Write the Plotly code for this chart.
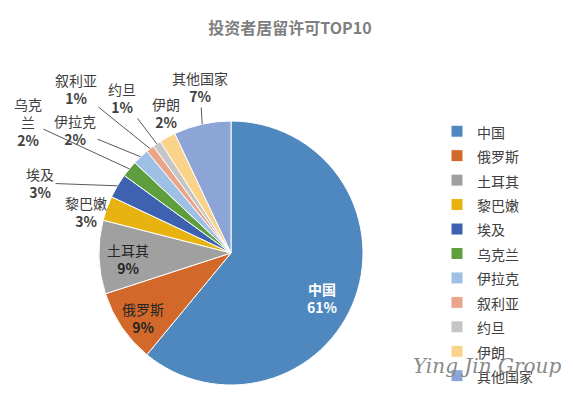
import math
import plotly.graph_objects as go

W, H = 573, 397
OFF = 8  # page body margin offset compensation

# ---- data ----
countries = ["中国", "俄罗斯", "土耳其", "黎巴嫩", "埃及", "乌克兰", "伊拉克", "叙利亚", "约旦", "伊朗", "其他国家"]
shares = [61, 9, 9, 3, 3, 2, 2, 1, 1, 2, 7]
colors = ["#4F88BE", "#D2692A", "#A0A0A0", "#E8B210", "#3F62B0", "#5E9E3F",
          "#9DC0E4", "#E8A58A", "#C5C5C5", "#FAD38A", "#8DA4D6"]
title_text = "投资者居留许可TOP10"

# ---- layout config (pixels, reference coordinates) ----
CX, CY, R = 231, 253, 132
# label centre (px) and whether a leader line is drawn
label_cfg = {
    "中国": (322, 298, False),
    "俄罗斯": (143, 318, False),
    "土耳其": (128, 259, False),
    "黎巴嫩": (86, 212, False),
    "埃及": (40, 183, True),
    "乌克兰": (28, 122, True),
    "伊拉克": (75, 130, True),
    "叙利亚": (76, 89, True),
    "约旦": (122, 98, True),
    "伊朗": (166, 113, False),
    "其他国家": (200, 87, True),
}
label_wrap = {"乌克兰": "乌克<br>兰"}

def px2paper(x, y):
    return (x - OFF) / W, 1 - (y - OFF) / H

fig = go.Figure()
fig.add_trace(go.Pie(
    labels=[f'<span style="font-size:14px">{c}</span>' for c in countries],
    values=shares,
    sort=False,
    direction="clockwise",
    rotation=0,
    marker=dict(colors=colors, line=dict(color="white", width=1)),
    textinfo="none",
    hoverinfo="label+percent",
    domain=dict(x=[(CX - OFF - R) / W, (CX - OFF + R) / W],
                y=[(H - (CY - OFF) - R) / H, (H - (CY - OFF) + R) / H]),
))

annotations = []
total = sum(shares)
cum = 0
for i, (name, v) in enumerate(zip(countries, shares)):
    mid = (cum + v / 2) / total * 2 * math.pi
    cum += v
    s, c = math.sin(mid), math.cos(mid)
    lx, ly, arrow = label_cfg[name]
    pct = round(v / total * 100)
    shown = label_wrap.get(name, name)
    if i == 0:
        txt = f"<b>{shown}</b><br><b>{pct}%</b>"
        col = "white"
    elif i < 3:
        txt = f"{shown}<br><b>{pct}%</b>"
        col = "#262626"
    else:
        txt = f"{shown}<br><b>{pct}%</b>"
        col = "#404040"
    font = dict(size=14, color=col, family="Noto Sans CJK SC")
    if arrow:
        ex, ey = CX + R * s, CY - R * c
        x, y = px2paper(ex, ey)
        annotations.append(dict(x=x, y=y, xref="paper", yref="paper", text=txt,
                                showarrow=True, arrowhead=0, arrowwidth=1,
                                arrowcolor="#595959", standoff=0,
                                ax=lx - ex, ay=ly - ey,
                                xanchor="center", yanchor="middle", font=font))
    else:
        x, y = px2paper(lx, ly)
        annotations.append(dict(x=x, y=y, xref="paper", yref="paper", text=txt,
                                showarrow=False, xanchor="center", yanchor="middle",
                                font=font))

# watermark
wx, wy = px2paper(487, 366)
annotations.append(dict(x=wx, y=wy, xref="paper", yref="paper",
                        text="<i>Ying Jin Group</i>", showarrow=False,
                        xanchor="center", yanchor="middle",
                        font=dict(size=20, color="#8a8a8a", family="DejaVu Serif")))

tx, ty = px2paper(290, 28)
lgx, lgy = px2paper(437, 114)
fig.update_layout(
    width=W, height=H,
    margin=dict(l=0, r=0, t=0, b=0),
    paper_bgcolor="white",
    plot_bgcolor="white",
    title=dict(text=f"<b>{title_text}</b>", x=tx, xanchor="center",
               y=ty, yanchor="middle",
               font=dict(size=16, color="#7F7F7F", family="Noto Sans CJK SC")),
    legend=dict(x=lgx, xanchor="left", y=lgy, yanchor="top",
                font=dict(size=16.5, color="#404040", family="Noto Sans CJK SC"),
                bgcolor="rgba(0,0,0,0)", itemclick=False),
    annotations=annotations,
    showlegend=True,
)

fig.write_html("out.html")
